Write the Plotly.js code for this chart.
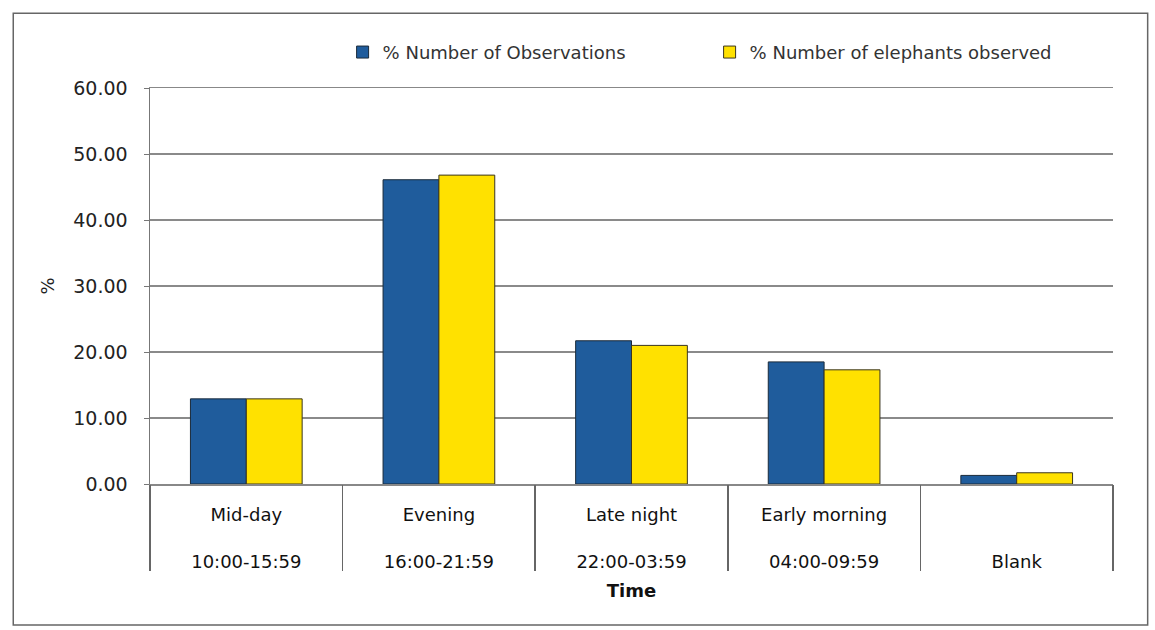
<!DOCTYPE html>
<html>
<head>
<meta charset="utf-8">
<script src="https://cdn.plot.ly/plotly-3.0.1.min.js"></script>
<style>html,body{margin:0;padding:0;background:#fff;}#chart{width:1155px;height:630px;}</style>
</head>
<body>
<div id="chart"></div>
<script>
const categories = ["Mid-day", "Evening", "Late night", "Early morning", "Blank"];
const timeRanges = ["10:00-15:59", "16:00-21:59", "22:00-03:59", "04:00-09:59", ""];
const seriesNames = ["% Number of Observations", "% Number of elephants observed"];
const pctObservations = [12.9, 46.1, 21.7, 18.5, 1.3];
const pctElephants = [12.9, 46.8, 21.0, 17.3, 1.7];
const yTicks = [0, 10, 20, 30, 40, 50, 60];

const tickText = categories.map((c, i) => timeRanges[i] ? (c + "<br><br>" + timeRanges[i]) : (" <br><br>" + c));

const FONT = "DejaVu Sans";
const traces = [
  {type: "bar", name: seriesNames[0], x: categories, y: pctObservations,
   marker: {color: "#1f5c9c", line: {color: "#1a2a3a", width: 1}}, hoverinfo: "y"},
  {type: "bar", name: seriesNames[1], x: categories, y: pctElephants,
   marker: {color: "#ffe100", line: {color: "#3a3520", width: 1}}, hoverinfo: "y"},
  {type: "scatter", mode: "none", x: categories, y: pctObservations, xaxis: "x2",
   showlegend: false, hoverinfo: "skip"}
];

const layout = {
  width: 1155, height: 630,
  margin: {l: 150, r: 42, t: 88, b: 146},
  paper_bgcolor: "#ffffff", plot_bgcolor: "#ffffff",
  font: {family: FONT, color: "#222"},
  barmode: "group", bargap: 0.42, bargroupgap: 0,
  showlegend: true,
  legend: {orientation: "h", x: 0.2, xanchor: "left", y: 1.09, yanchor: "middle",
           font: {family: FONT, size: 18, color: "#333"}, itemwidth: 30,
           entrywidth: 322, entrywidthmode: "pixels", traceorder: "normal"},
  xaxis: {type: "category", categoryorder: "array", categoryarray: categories,
          tickmode: "array", tickvals: categories, ticktext: tickText,
          ticks: "", showline: true, mirror: true, linecolor: "#888", linewidth: 1.5,
          showgrid: false, zeroline: false, range: [-0.5, 4.5],
          ticklabelstandoff: 14,
          tickfont: {family: FONT, size: 18, color: "#111"},
          title: {text: "<b>Time</b>", font: {family: FONT, size: 18, color: "#111"}, standoff: 13}},
  xaxis2: {type: "category", categoryorder: "array", categoryarray: categories,
           overlaying: "x", anchor: "y", side: "bottom", range: [-0.5, 4.5],
           tickson: "boundaries", ticks: "outside", ticklen: 86, tickwidth: 1.5, tickcolor: "#666",
           showticklabels: false, showgrid: false, showline: false, zeroline: false},
  yaxis: {range: [0, 60], tickmode: "array", tickvals: yTicks, tickformat: ".2f",
          ticks: "outside", ticklen: 5, tickcolor: "#777", tickwidth: 1,
          ticklabelstandoff: 12,
          showgrid: true, gridcolor: "#8a8a8a", gridwidth: 1.5,
          showline: true, linecolor: "#777", linewidth: 1.5, zeroline: false,
          tickfont: {family: FONT, size: 19, color: "#222"},
          title: {text: "%", font: {family: FONT, size: 18, color: "#222"}, standoff: 14}},
  shapes: [
    {type: "rect", xref: "paper", yref: "paper", x0: -0.142, x1: 1.036, y0: -0.356, y1: 1.189,
     line: {color: "#666", width: 1.5}, fillcolor: "rgba(0,0,0,0)", layer: "below"}
  ]
};

Plotly.newPlot("chart", traces, layout, {displayModeBar: false, staticPlot: true});
</script>
</body>
</html>
